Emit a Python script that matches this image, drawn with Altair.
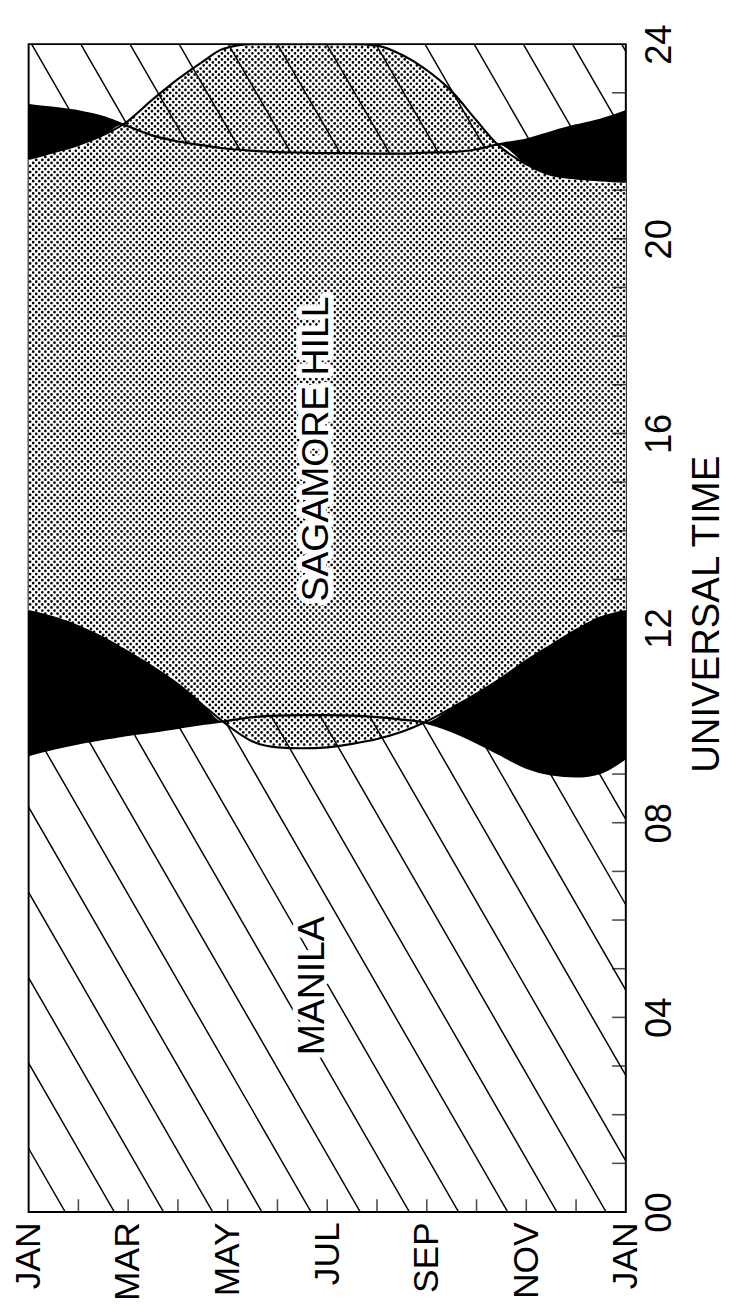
import altair as alt
import numpy as np
import pandas as pd

alt.data_transformers.disable_max_rows()

# ---------------- data ----------------
# month position (0 = JAN, 12 = next JAN)
month_pos = [0, 0.5, 1, 1.5, 1.9, 2.5, 3, 3.5, 3.9, 4.5, 5, 5.5, 6, 6.5, 7,
             7.5, 7.95, 8.5, 9, 9.42, 10, 10.5, 11, 11.5, 12]
# end of Manila coverage after 00 UT (hours)
manila_end = [9.39, 9.52, 9.63, 9.72, 9.79, 9.87, 9.95, 10.03, 10.08, 10.17, 10.20,
              10.21, 10.21, 10.20, 10.17, 10.12, 10.06, 9.88, 9.65, 9.43, 9.13,
              8.99, 8.95, 9.03, 9.33]
# start of Sagamore Hill coverage (hours)
sagamore_start = [12.35, 12.22, 12.04, 11.80, 11.57, 11.20, 10.85, 10.42, 10.08, 9.67,
                  9.55, 9.53, 9.55, 9.62, 9.72, 9.87, 10.06, 10.36, 10.65, 10.92,
                  11.33, 11.65, 11.96, 12.22, 12.35]
# start of Manila coverage before 24 UT (hours)
manila_start = [22.75, 22.69, 22.62, 22.50, 22.35, 22.12, 22.00, 21.92, 21.86, 21.81,
                21.78, 21.77, 21.76, 21.76, 21.75, 21.75, 21.77, 21.78, 21.84, 21.94,
                22.04, 22.19, 22.33, 22.45, 22.62]
# end of Sagamore Hill coverage (hours)
sagamore_end = [21.64, 21.78, 21.93, 22.13, 22.35, 22.87, 23.28, 23.64, 23.90, 24.0,
                24.0, 24.0, 24.0, 24.0, 23.97, 23.78, 23.50, 23.03, 22.43, 21.94,
                21.53, 21.31, 21.24, 21.20, 21.17]

month_label_pos = [0, 2, 4, 6, 8, 10, 12]
month_labels = ["JAN", "MAR", "MAY", "JUL", "SEP", "NOV", "JAN"]
ut_label_pos = [0, 4, 8, 12, 16, 20, 24]
ut_labels = ["00", "04", "08", "12", "16", "20", "24"]
month_ticks = [1, 2, 3, 4, 5, 6, 7, 8, 9, 10, 11]
ut_ticks = list(range(1, 24))

station_names = ["SAGAMORE HILL", "MANILA"]
station_month = [5.80, 5.72]
station_ut = [15.68, 4.65]

# ---------------- style ----------------
W, H = 608, 1189
FONT = "Liberation Sans"
HATCH_START, HATCH_STEP, HATCH_SHIFT, HATCH_COUNT = 0.736, 0.988, 13.52, 26
DOT_DX, DOT_DY, DOT_SIZE = 3.1, 6.2, 2.7

df = pd.DataFrame({
    "m": month_pos,
    "m_end": manila_end,
    "s_start": sagamore_start,
    "m_start": manila_start,
    "s_end": sagamore_end,
})
df["sag_lo"] = np.maximum(df["s_start"], df["m_end"])
df["sag_hi"] = np.minimum(df["s_end"], df["m_start"])

# hatch texture (Manila)
k = np.arange(HATCH_COUNT)
hatch = pd.DataFrame({
    "m0": HATCH_START + k * HATCH_STEP,
    "m1": HATCH_START + k * HATCH_STEP - HATCH_SHIFT,
    "h0": 0.0,
    "h1": 24.0,
})

# stipple texture (Sagamore Hill): dotted columns inside the Sagamore band
cols = []
for i, xp in enumerate(np.arange(DOT_DX / 2, W, DOT_DX)):
    mc = xp / W * 12
    lo = np.interp(mc, month_pos, sagamore_start)
    hi = np.interp(mc, month_pos, sagamore_end)
    phase = 0.0 if i % 2 == 0 else DOT_DY / 2
    ytop = H * (1 - hi / 24) + 1.4
    ybot = H * (1 - lo / 24) - 1.4
    ystart = phase + np.ceil((ytop - phase) / DOT_DY) * DOT_DY
    if ybot > ystart:
        cols.append({"mc": mc, "ha": 24 * (1 - ystart / H), "hb": 24 * (1 - ybot / H)})
dots = pd.DataFrame(cols)

month_expr = "[" + ",".join("'%s'" % s for s in month_labels) + "][datum.value/2]"
ut_expr = "[" + ",".join("'%s'" % s for s in ut_labels) + "][datum.value/4]"

x_axis = alt.Axis(values=month_label_pos, labelExpr=month_expr, labelAngle=270,
                  labelAlign="right", labelBaseline="middle", labelFontSize=36,
                  labelFont=FONT, labelColor="black", labelPadding=10, ticks=False,
                  domain=False, grid=False, title=None, labelFlush=False,
                  labelOverlap=False)
y_axis = alt.Axis(orient="right", values=ut_label_pos, labelExpr=ut_expr, labelAngle=270,
                  labelAlign="center", labelBaseline="top", labelFontSize=37,
                  labelFont=FONT, labelColor="black", labelPadding=16, ticks=False,
                  domain=False, grid=False, title="UNIVERSAL TIME", titleAngle=270,
                  titleAlign="center", titleBaseline="top", titleFontSize=39,
                  titleFont=FONT, titleFontWeight="normal", titleColor="black",
                  titlePadding=11, titleY=580, labelFlush=False, labelOverlap=False)
xs = alt.Scale(domain=[0, 12], nice=False, zero=False)
ys = alt.Scale(domain=[0, 24], nice=False, zero=False)


def X(f):
    return alt.X(f, type="quantitative", scale=xs, axis=x_axis)


def Y(f):
    return alt.Y(f, type="quantitative", scale=ys, axis=y_axis)


hatch_layer = alt.Chart(hatch).mark_rule(clip=True, color="black", strokeWidth=1.5).encode(
    x=X("m0"), x2="m1", y=Y("h0"), y2="h1")

black_layer = alt.Chart(df).mark_area(color="black", interpolate="monotone", opacity=1).encode(
    x=X("m"), y=Y("m_end"), y2="m_start")

white_layer = alt.Chart(df).mark_area(color="white", interpolate="monotone", opacity=1).encode(
    x=X("m"), y=Y("sag_lo"), y2="sag_hi")

dot_layer = alt.Chart(dots).mark_rule(color="black", strokeWidth=DOT_SIZE, strokeCap="round",
                                      strokeDash=[0.1, DOT_DY - 0.1]).encode(
    x=X("mc"), y=Y("ha"), y2="hb")

curves = alt.Chart(df).transform_fold(
    ["m_end", "s_start", "m_start", "s_end"], as_=["curve", "h"]
).mark_line(color="black", strokeWidth=2.2, interpolate="monotone", clip=True).encode(
    x=X("m"), y=Y("h:Q"), detail="curve:N")

lab = pd.DataFrame({"name": station_names, "m": station_month, "h": station_ut})
halo = alt.Chart(lab).mark_text(angle=270, font=FONT, fontSize=38, color="white",
                                stroke="white", strokeWidth=11, strokeJoin="round",
                                align="center", baseline="middle").encode(
    x=X("m"), y=Y("h"), text="name:N")
names = alt.Chart(lab).mark_text(angle=270, font=FONT, fontSize=38, color="black",
                                 align="center", baseline="middle").encode(
    x=X("m"), y=Y("h"), text="name:N")

rt = alt.Chart(pd.DataFrame({"u": ut_ticks})).mark_tick(
    orient="horizontal", color="black", size=14, thickness=1.6).encode(
    y=Y("u"), x=alt.value(W - 7))
bt = alt.Chart(pd.DataFrame({"mt": month_ticks})).mark_tick(
    orient="vertical", color="black", size=13, thickness=1.6).encode(
    x=X("mt"), y=alt.value(H - 6.5))

chart = alt.layer(hatch_layer, black_layer, white_layer, dot_layer, curves, halo, names,
                  rt, bt).properties(
    width=W, height=H, padding={"left": 3, "top": 4, "right": 0, "bottom": 0}
).configure_view(stroke="black", strokeWidth=2, fill="white")

chart.save("out.html", embed_options={"renderer": "svg", "actions": False})
